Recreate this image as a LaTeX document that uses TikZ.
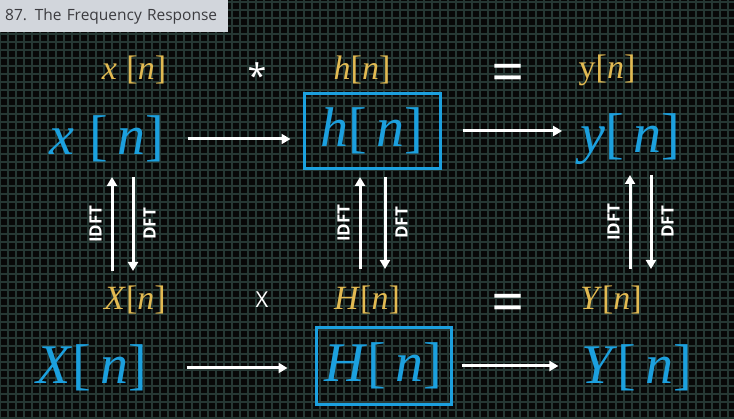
\documentclass[tikz,border=0pt]{standalone}
\usepackage{fontspec}
\setmainfont{Liberation Serif}
\setsansfont{Open Sans}
\usetikzlibrary{arrows.meta,positioning}

\definecolor{gridcol}{RGB}{38,56,52}
\definecolor{sigblue}{RGB}{28,160,222}
\definecolor{sigyellow}{RGB}{226,186,82}
\definecolor{titlegray}{RGB}{210,214,220}
\definecolor{titletext}{RGB}{60,60,64}
\newcommand{\iv}[1]{\textit{#1}}

\begin{document}
\begin{tikzpicture}[x=1pt,y=1pt,
  big/.style={text=sigblue, font=\fontsize{56}{56}\selectfont, inner sep=2pt},
  small/.style={text=sigyellow, font=\fontsize{34}{34}\selectfont, inner sep=2pt},
  op/.style={text=white, inner sep=1pt},
  sysbox/.style={draw=sigblue, line width=3pt},
  flow/.style={draw=white, line width=3pt, -{Triangle[length=9pt,width=10pt]}},
  tag/.style={text=white, font=\sffamily\bfseries\fontsize{17}{17}\selectfont, rotate=90, inner sep=0pt, inner ysep=9pt}]
   \useasboundingbox (0,0) rectangle (734,418);
   \fill[black!97] (0,0) rectangle (734,418);
   \draw[gridcol, line width=1.1pt] (0,0) grid[step=8pt] (734,418);

   % title
   \node[fill=titlegray, text=titletext, anchor=north west, minimum height=32pt,
         text width=218pt, inner xsep=5pt, align=left,
         font=\sffamily\fontsize{15.5}{15.5}\selectfont] (title) at (0,418) {87. The Frequency Response};

   % time domain
   \node[small] (xt) at (134,348) {\iv{x}\;[\iv{n}]};
   \node[op, font=\sffamily\fontsize{34}{34}\selectfont] (conv) at (257,342) {*};
   \node[small] (ht) at (362,348) {\iv{h}[\iv{n}]};
   \node[op, font=\sffamily\fontsize{58}{58}\selectfont] (eq1) at (508,340) {=};
   \node[small] (yt) at (607,348) {y[\iv{n}]};

   \node[big] (xb) at (107,279) {\iv{x}\;[\,\iv{n}]};
   \node[big, sysbox, minimum width=136pt, minimum height=75pt] (hb) at (372,287) {\iv{h}[\,\iv{n}]};
   \node[big] (yb) at (630,279) {\iv{y}[\,\iv{n}]};

   % frequency domain
   \node[small] (Xt) at (135,118) {\iv{X}[\iv{n}]};
   \node[op, font=\sffamily\fontsize{22}{22}\selectfont] (mult) at (262,118) {X};
   \node[small] (Ht) at (367,118) {\iv{H}[\iv{n}]};
   \node[op, font=\sffamily\fontsize{58}{58}\selectfont] (eq2) at (508,110) {=};
   \node[small] (Yt) at (611,118) {\iv{Y}[\iv{n}]};

   \node[big] (Xb) at (92,50) {\iv{X}[\,\iv{n}]};
   \node[big, sysbox, minimum width=135pt, minimum height=76pt] (Hb) at (383.5,52) {\iv{H}[\,\iv{n}]};
   \node[big] (Yb) at (637,50) {\iv{Y}[\,\iv{n}]};

   % system arrows
   \draw[flow, shorten <=21pt, shorten >=12pt] (xb.east) -- (xb.east -| hb.west);
   \draw[flow, shorten <=21pt, shorten >=16pt] (hb.east) -- (hb.east -| yb.west);
   \draw[flow, shorten <=37pt, shorten >=27pt] (Xb.east) -- (Xb.east -| Hb.west);
   \draw[flow, shorten <=9pt, shorten >=21pt] (Hb.east) -- (Hb.east -| Yb.west);

   % transform pairs
   \coordinate (x-lo) at (122.5,147);
   \coordinate (x-hi) at (122.5,241);
   \coordinate (h-lo) at (372.5,149);
   \coordinate (h-hi) at (372.5,241);
   \coordinate (y-lo) at (640.5,149);
   \coordinate (y-hi) at (640.5,243);

   \draw[flow] ([xshift=-10.5pt]x-lo) -- node[tag, anchor=south] {IDFT} ([xshift=-10.5pt]x-hi);
   \draw[flow] ([xshift=10.5pt]x-hi) -- node[tag, anchor=north] {DFT} ([xshift=10.5pt]x-lo);
   \draw[flow] ([xshift=-12.5pt]h-lo) -- node[tag, anchor=south] {IDFT} ([xshift=-12.5pt]h-hi);
   \draw[flow] ([xshift=12.5pt]h-hi) -- node[tag, anchor=north] {DFT} ([xshift=12.5pt]h-lo);
   \draw[flow] ([xshift=-10.5pt]y-lo) -- node[tag, anchor=south] {IDFT} ([xshift=-10.5pt]y-hi);
   \draw[flow] ([xshift=10.5pt]y-hi) -- node[tag, anchor=north] {DFT} ([xshift=10.5pt]y-lo);
\end{tikzpicture}
\end{document}
